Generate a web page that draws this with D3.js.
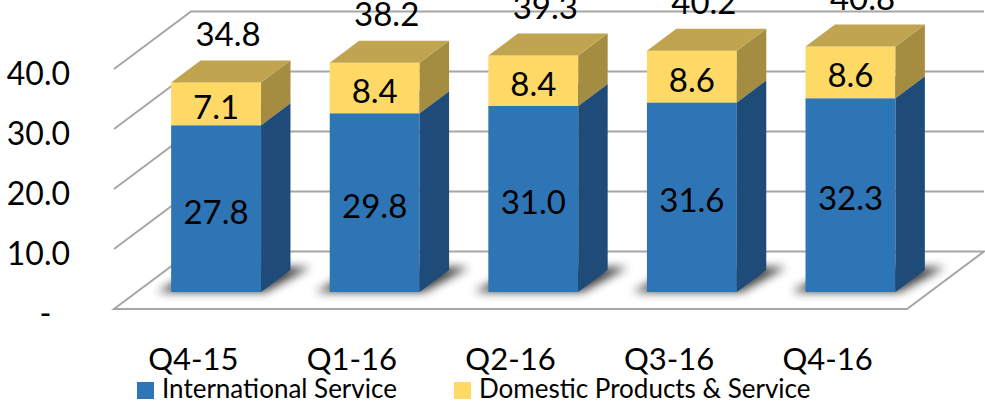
<!DOCTYPE html>
<html>
<head>
<meta charset="utf-8">
<script src="https://cdn.jsdelivr.net/npm/d3@7/dist/d3.min.js"></script>
<style>
  body { margin: 0; background: #fff; }
  svg { display: block; font-family: Lato, "Open Sans", sans-serif; }
</style>
</head>
<body>
<svg id="chart" width="985" height="404"></svg>
<script>
// data
var quarters = ["Q4-15", "Q1-16", "Q2-16", "Q3-16", "Q4-16"];
var international = [27.8, 29.8, 31.0, 31.6, 32.3];
var domestic = [7.1, 8.4, 8.4, 8.6, 8.6];
var totals = [34.8, 38.2, 39.3, 40.2, 40.8];
var yTicks = [0, 10, 20, 30, 40];
var seriesNames = ["International Service", "Domestic Products & Service"];

var svg = d3.select("#chart");

// front plane of the floor, depth goes up-right
var depth = {dx: 77, dy: -57.5};
var barZ0 = 0.296, barZ1 = 0.678;

var x = d3.scaleBand()
    .domain(quarters)
    .range([114, 907])
    .paddingInner(0.433)
    .paddingOuter(0.2165);

var y = d3.scaleLinear()
    .domain([0, 40])
    .range([309, 69]);

function pt(px, v, z) {
  return [px + depth.dx * z, y(v) + depth.dy * z];
}
function poly(points) {
  return "M" + points.map(function(p){ return p[0] + "," + p[1]; }).join("L") + "Z";
}

var colors = {
  blueFront: "#2E75B6", blueSide: "#1F4B78", blueTop: "#3A82C2",
  yelFront: "#FFD966", yelSide: "#A48C40", yelTop: "#C0A44F"
};

var defs = svg.append("defs");
defs.append("filter").attr("id", "blur")
    .attr("x", "-50%").attr("y", "-100%").attr("width", "200%").attr("height", "300%")
  .append("feGaussianBlur").attr("stdDeviation", 5);

var x0 = x.range()[0], x1 = x.range()[1];

// floor
svg.append("path")
    .attr("d", poly([pt(x0, 0, 0), pt(x1, 0, 0), pt(x1, 0, 1), pt(x0, 0, 1)]))
    .attr("fill", "#fff")
    .attr("stroke", "#A6A6A6")
    .attr("stroke-width", 2);

// gridlines: side wall diagonal + back wall
var grid = svg.append("g").attr("stroke", "#A6A6A6").attr("stroke-width", 2).attr("fill", "none");
yTicks.filter(function(t){ return t > 0; }).forEach(function(t) {
  grid.append("path").attr("d", "M" + pt(x0, t, 0) + "L" + pt(x0, t, 1) + "L" + pt(x1, t, 1));
});

// y axis labels
svg.append("g").selectAll("text")
  .data(yTicks)
  .join("text")
    .attr("x", 70)
    .attr("y", function(d){ return y(d) + 3; })
    .attr("text-anchor", "end")
    .attr("dominant-baseline", "central")
    .attr("font-size", 32)
    .style("white-space", "pre")
    .text(function(d){ return d === 0 ? "-\u2007" : d.toFixed(1); });

// shadows
svg.append("g").selectAll("path")
  .data(quarters)
  .join("path")
    .attr("d", function(q){
      var a = x(q), b = x(q) + x.bandwidth();
      return poly([pt(a - 14, 0, barZ0), pt(b + 4, 0, barZ0), pt(b + 16, 0, barZ1 + 0.05), pt(a - 2, 0, barZ1 + 0.05)]);
    })
    .attr("fill", "#000")
    .attr("opacity", 0.75)
    .attr("filter", "url(#blur)");

// bars
function box(g, a, b, v0, v1, front, side, top) {
  g.append("path").attr("d", poly([pt(a, v0, barZ0), pt(b, v0, barZ0), pt(b, v1, barZ0), pt(a, v1, barZ0)])).attr("fill", front);
  g.append("path").attr("d", poly([pt(b, v0, barZ0), pt(b, v0, barZ1), pt(b, v1, barZ1), pt(b, v1, barZ0)])).attr("fill", side);
  g.append("path").attr("d", poly([pt(a, v1, barZ0), pt(b, v1, barZ0), pt(b, v1, barZ1), pt(a, v1, barZ1)])).attr("fill", top);
}

quarters.forEach(function(q, i) {
  var g = svg.append("g");
  var a = x(q), b = x(q) + x.bandwidth();
  box(g, a, b, 0, international[i], colors.blueFront, colors.blueSide, colors.blueTop);
  box(g, a, b, international[i], international[i] + domestic[i], colors.yelFront, colors.yelSide, colors.yelTop);

  var cx = pt((a + b) / 2, 0, barZ0)[0];
  var midY = function(v0, v1){ return (pt(0, v0, barZ0)[1] + pt(0, v1, barZ0)[1]) / 2; };

  g.append("text")
      .attr("x", cx).attr("y", midY(0, international[i]) + 2)
      .attr("text-anchor", "middle").attr("dominant-baseline", "central")
      .attr("font-size", 33)
      .text(international[i].toFixed(1));

  g.append("text")
      .attr("x", cx).attr("y", midY(international[i], international[i] + domestic[i]) + 2)
      .attr("text-anchor", "middle").attr("dominant-baseline", "central")
      .attr("font-size", 33)
      .text(domestic[i].toFixed(1));

  g.append("text")
      .attr("x", cx + 12).attr("y", pt(0, totals[i], barZ0)[1] - 37)
      .attr("text-anchor", "middle")
      .attr("font-size", 33)
      .text(totals[i].toFixed(1));
});

// category labels on the floor front edge
svg.append("g").selectAll("text")
  .data(quarters)
  .join("text")
    .attr("x", function(d){ return x(d) + x.bandwidth() / 2; })
    .attr("y", 370)
    .attr("text-anchor", "middle")
    .attr("font-size", 31)
    .text(function(d){ return d; });

// legend
var legend = svg.append("g");
var legendX = [137, 454];
seriesNames.forEach(function(name, i) {
  legend.append("rect")
      .attr("x", legendX[i]).attr("y", 382)
      .attr("width", 17).attr("height", 17)
      .attr("fill", i === 0 ? colors.blueFront : colors.yelFront);
  legend.append("text")
      .attr("x", legendX[i] + 25).attr("y", 398)
      .attr("font-size", 26)
      .text(name);
});
</script>
</body>
</html>
